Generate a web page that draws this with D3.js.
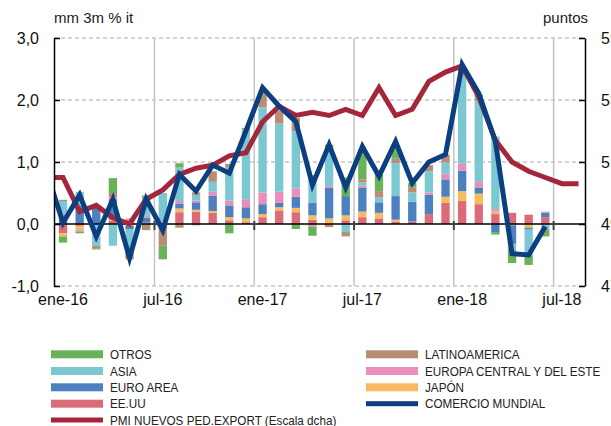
<!DOCTYPE html>
<html>
<head>
<meta charset="utf-8">
<script src="https://cdn.jsdelivr.net/npm/d3@7"></script>
<style>
  body { margin: 0; background: #fff; }
</style>
</head>
<body>
<div id="chart"></div>
<script>
// months: dic-15 is only there so the lines start beyond the left axis (clipped)
const months = ["dic-15",
  "ene-16","feb-16","mar-16","abr-16","may-16","jun-16","jul-16","ago-16","sep-16","oct-16","nov-16","dic-16",
  "ene-17","feb-17","mar-17","abr-17","may-17","jun-17","jul-17","ago-17","sep-17","oct-17","nov-17","dic-17",
  "ene-18","feb-18","mar-18","abr-18","may-18","jun-18","jul-18","ago-18"];
const tickMonths = ["ene-16","jul-16","ene-17","jul-17","ene-18","jul-18"];
const leftTicks = [-1, 0, 1, 2, 3];
const rightTicks = [47, 49, 51, 53, 55];

// contributions, mm 3m % it
const eeuu   = [null, -0.15,-0.03,0.00,0.05,0.06,0.01,0.01,0.19,0.20,0.18,0.06,0.03, 0.11,0.22,0.19,0.07,0.01,0.06,0.11,0.09,0.04,0.04,0.16,0.34, 0.37,0.32,0.16,0.18,0.15,0.11, null,null];
const japon  = [null, -0.05,-0.07,0.00,0.02,-0.03,0.01,0.03,0.06,0.03,0.03,0.05,0.06, 0.05,0.05,0.07,0.07,0.08,0.08,0.09,0.09,0.03,0.00,0.00,0.10, 0.16,0.17,0.04,-0.02,-0.06,0.00, null,null];
const euro   = [null, 0.12,0.30,0.30,0.33,-0.05,0.08,0.00,0.08,0.12,0.25,0.19,0.18, 0.16,0.07,0.18,0.20,0.49,0.31,0.39,0.17,0.38,0.32,0.31,0.28, 0.33,0.10,-0.13,-0.30,-0.02,0.07, null,null];
const eurc   = [null, 0.05,-0.02,0.00,0.03,0.03,0.03,0.00,0.04,0.03,0.06,0.08,0.13, 0.19,0.18,0.13,-0.04,0.03,0.00,0.03,0.00,0.00,0.00,0.04,0.09, 0.12,0.09,0.04,0.00,0.00,0.02, null,null];
const asia   = [null, 0.20,0.22,-0.35,-0.35,-0.40,0.27,0.46,0.54,0.09,0.16,0.54,1.13, 1.37,1.10,0.93,0.45,0.58,-0.13,0.05,0.08,0.53,0.15,0.34,0.18, 1.40,1.31,1.17,-0.10,-0.42,-0.08, null,null];
const latam  = [null, 0.02,0.00,-0.04,0.07,-0.07,-0.10,-0.35,-0.06,0.04,0.17,0.05,0.02, 0.22,0.21,0.21,0.00,-0.05,-0.07,0.05,0.10,0.08,0.08,0.10,0.13, 0.08,0.05,0.00,-0.03,-0.01,-0.03, null,null];
const otros  = [null, -0.10,-0.03,-0.02,0.24,-0.02,0.06,-0.22,0.07,-0.02,0.00,-0.15,0.00, 0.03,0.00,-0.08,-0.15,0.09,0.30,0.48,0.27,0.20,0.07,0.00,0.00, 0.04,0.05,-0.04,-0.18,-0.15,-0.09, null,null];

// comercio mundial (left scale) and PMI (right scale, puntos)
const comercio = [0.85, 0.02,0.47,-0.20,0.40,-0.55,0.40,-0.10,0.80,0.53,0.95,0.82,1.50, 2.20,1.90,1.65,0.63,1.28,0.59,1.25,0.77,1.33,0.66,1.00,1.12, 2.57,2.11,1.33,-0.48,-0.50,-0.04, null,null];
const pmi = [50.5, 50.5,49.4,49.6,49.2,49.0,49.8,50.1,50.6,50.8,50.9,51.2,51.3, 52.3,52.8,52.5,52.6,52.5,52.7,52.5,53.4,52.5,52.7,53.6,53.9, 54.1,53.1,51.7,51.0,50.7,50.5,50.3,50.3];

const series = [
    {key: "eeuu",  name: "EE.UU", values: eeuu,  color: "#dc6b78"},
    {key: "japon", name: "JAPÓN", values: japon, color: "#f7bb5f"},
    {key: "euro",  name: "EURO AREA", values: euro, color: "#4c80bf"},
    {key: "eurc",  name: "EUROPA CENTRAL Y DEL ESTE", values: eurc, color: "#e78fb8"},
    {key: "asia",  name: "ASIA", values: asia, color: "#7bc8d3"},
    {key: "latam", name: "LATINOAMERICA", values: latam, color: "#b88d73"},
    {key: "otros", name: "OTROS", values: otros, color: "#69b25a"}
];
const colorComercio = "#0b3f7f";
const colorPmi = "#a4263b";

const width = 611;
const height = 426;
const plotLeft = 54;
const plotRight = 585;
const font = "'Liberation Sans', Arial, sans-serif";

const svg = d3.select("#chart").append("svg")
    .attr("width", width)
    .attr("height", height)
    .attr("viewBox", [0, 0, width, height]);

// Scales
const step = 16.63;
const x = d3.scaleBand()
    .domain(months)
    .range([54.7 - step, 54.7 + 32 * step])
    .paddingInner(0.5)
    .paddingOuter(0.25);
const xc = m => x(m) + x.bandwidth() / 2;
const y = d3.scaleLinear([-1, 3], [286, 38]);
const yR = d3.scaleLinear([47, 55], [286, 38]);

const es = d3.formatLocale({decimal: ",", thousands: ".", grouping: [3], currency: ["", "€"], minus: "-"});
const fmt = es.format(".1f");

svg.append("defs").append("clipPath")
    .attr("id", "plot-clip")
    .append("rect")
    .attr("x", plotLeft)
    .attr("y", 0)
    .attr("width", plotRight - plotLeft)
    .attr("height", height);

// Grid
svg.append("g")
    .selectAll("line")
    .data(leftTicks.filter(d => d !== 0))
    .join("line")
    .attr("x1", plotLeft)
    .attr("x2", plotRight)
    .attr("y1", d => y(d))
    .attr("y2", d => y(d))
    .attr("stroke", "#a8a8a8")
    .attr("stroke-width", 1)
    .attr("stroke-dasharray", "4,3");

svg.append("g")
    .selectAll("line")
    .data(tickMonths.slice(1))
    .join("line")
    .attr("x1", d => x(d) - x.step() * 0.25)
    .attr("x2", d => x(d) - x.step() * 0.25)
    .attr("y1", y(3))
    .attr("y2", y(-1))
    .attr("stroke", "#c4c4c4")
    .attr("stroke-width", 1.5);

// Stacked bars
const rows = months.map((m, i) => {
    const row = {month: m};
    series.forEach(s => { row[s.key] = s.values[i] == null ? 0 : s.values[i]; });
    return row;
});
const stacked = d3.stack()
    .keys(series.map(s => s.key))
    .offset(d3.stackOffsetDiverging)(rows);

svg.append("g")
    .attr("clip-path", "url(#plot-clip)")
    .selectAll("g")
    .data(stacked)
    .join("g")
    .attr("fill", (d, i) => series[i].color)
    .selectAll("rect")
    .data(d => d.filter(p => p[1] !== p[0]))
    .join("rect")
    .attr("x", d => x(d.data.month))
    .attr("width", x.bandwidth())
    .attr("y", d => y(Math.max(d[0], d[1])))
    .attr("height", d => Math.abs(y(d[0]) - y(d[1])));

// Zero line and its ticks
svg.append("line")
    .attr("x1", plotLeft)
    .attr("x2", plotRight)
    .attr("y1", y(0))
    .attr("y2", y(0))
    .attr("stroke", "#000")
    .attr("stroke-width", 1.5);

svg.append("g")
    .selectAll("line")
    .data(tickMonths.slice(1))
    .join("line")
    .attr("x1", d => x(d) - x.step() * 0.25)
    .attr("x2", d => x(d) - x.step() * 0.25)
    .attr("y1", y(0) - 3)
    .attr("y2", y(0) + 6)
    .attr("stroke", "#444")
    .attr("stroke-width", 2);

// Lines
const lineLeft = d3.line()
    .defined(d => d.v != null)
    .x(d => xc(d.m))
    .y(d => y(d.v));
const lineRight = d3.line()
    .defined(d => d.v != null)
    .x(d => xc(d.m))
    .y(d => yR(d.v));

const lines = svg.append("g").attr("clip-path", "url(#plot-clip)");

lines.append("path")
    .datum(months.map((m, i) => ({m: m, v: pmi[i]})))
    .attr("fill", "none")
    .attr("stroke", colorPmi)
    .attr("stroke-width", 5)
    .attr("stroke-linejoin", "miter")
    .attr("d", lineRight);

lines.append("path")
    .datum(months.map((m, i) => ({m: m, v: comercio[i]})))
    .attr("fill", "none")
    .attr("stroke", colorComercio)
    .attr("stroke-width", 5)
    .attr("stroke-linejoin", "miter")
    .attr("d", lineLeft);

// Axes
const leftAxis = svg.append("g")
    .attr("transform", `translate(${plotLeft},0)`)
    .call(d3.axisLeft(y).tickValues(leftTicks).tickSize(-6).tickSizeOuter(0).tickPadding(15).tickFormat(fmt));

// right tick labels run past the picture edge, as in the original
const rightAxis = svg.append("g")
    .attr("transform", `translate(${plotRight},0)`)
    .call(d3.axisRight(yR).tickValues(rightTicks).tickSize(-6).tickSizeOuter(0).tickPadding(16).tickFormat(d3.format("d")));

[leftAxis, rightAxis].forEach(g => {
    g.attr("font-family", font).attr("font-size", 16);
    g.select(".domain").attr("stroke", "#000").attr("stroke-width", 1.5);
    g.selectAll(".tick line").attr("stroke", "#000").attr("stroke-width", 1.5);
    g.selectAll(".tick text").attr("fill", "#111");
});

const bottomAxis = svg.append("g")
    .attr("transform", `translate(0,${y(-1)})`)
    .call(d3.axisBottom(x).tickValues(tickMonths).tickSize(0).tickPadding(8))
    .call(g => g.select(".domain").remove())
    .attr("font-family", font)
    .attr("font-size", 16);
bottomAxis.selectAll(".tick text").attr("fill", "#111");

// Axis titles
svg.append("text")
    .attr("x", plotLeft)
    .attr("y", 23)
    .attr("font-family", font)
    .attr("font-size", 15)
    .attr("fill", "#222")
    .text("mm 3m % it");

svg.append("text")
    .attr("x", 588)
    .attr("y", 23)
    .attr("text-anchor", "end")
    .attr("font-family", font)
    .attr("font-size", 15)
    .attr("fill", "#222")
    .text("puntos");

// Legend
const byKey = Object.fromEntries(series.map(s => [s.key, s]));
const legendItems = [
    {name: "OTROS", color: byKey.otros.color, col: 0, row: 0, h: 8},
    {name: "ASIA", color: byKey.asia.color, col: 0, row: 1, h: 8},
    {name: "EURO AREA", color: byKey.euro.color, col: 0, row: 2, h: 8},
    {name: "EE.UU", color: byKey.eeuu.color, col: 0, row: 3, h: 8},
    {name: "PMI NUEVOS PED.EXPORT (Escala dcha)", color: colorPmi, col: 0, row: 4, h: 5},
    {name: "LATINOAMERICA", color: byKey.latam.color, col: 1, row: 0, h: 8},
    {name: "EUROPA CENTRAL Y DEL ESTE", color: byKey.eurc.color, col: 1, row: 1, h: 8},
    {name: "JAPÓN", color: byKey.japon.color, col: 1, row: 2, h: 8},
    {name: "COMERCIO MUNDIAL", color: colorComercio, col: 1, row: 3, h: 5}
];
const colX = [51, 366];
const rowY = [354.3, 371, 387.3, 403.7, 420];

const legend = svg.append("g")
    .selectAll("g")
    .data(legendItems)
    .join("g")
    .attr("transform", d => `translate(${colX[d.col]},${rowY[d.row]})`);

legend.append("rect")
    .attr("x", 0)
    .attr("y", d => -d.h / 2)
    .attr("width", 52)
    .attr("height", d => d.h)
    .attr("fill", d => d.color);

// condensed look: Liberation Sans squeezed horizontally
legend.append("text")
    .attr("transform", "translate(59,4.7) scale(0.9,1)")
    .attr("font-family", font)
    .attr("font-size", 13)
    .attr("fill", "#222")
    .text(d => d.name);
</script>
</body>
</html>
